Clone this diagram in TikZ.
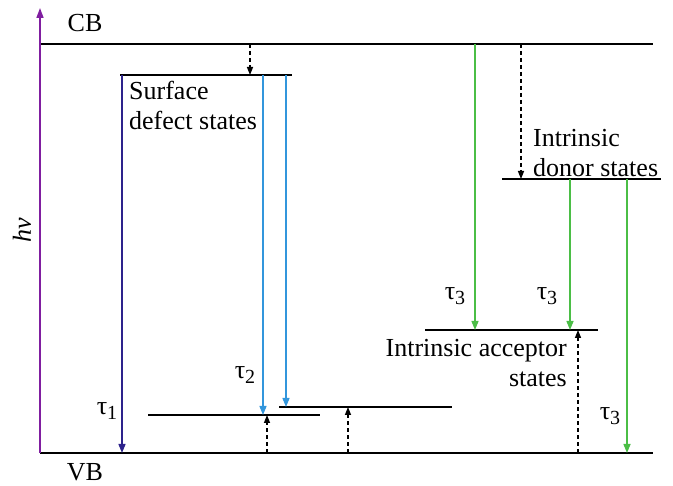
\documentclass[tikz,border=0pt]{standalone}
\usepackage{fontspec}
\setmainfont{Liberation Serif}
\usetikzlibrary{arrows.meta}
\definecolor{hvpurple}{RGB}{128,30,160}
\definecolor{tauone}{RGB}{45,35,140}
\definecolor{tautwo}{RGB}{50,150,220}
\definecolor{tauthree}{RGB}{75,190,70}

% tau with a lowered index
\newcommand{\tauidx}[1]{τ\raisebox{-0.45ex}{\fontsize{20}{20}\selectfont #1}}

\begin{document}
\begin{tikzpicture}[x=1pt,y=-1pt,
  level/.style={line width=1.8pt},
  trans/.style={line width=1.4pt,-{Triangle[width=7pt,length=9pt]}},
  hop/.style={line width=1.4pt,dashed,dash pattern=on 4pt off 3pt,-{Triangle[width=6pt,length=8pt]}},
  lbl/.style={font=\fontsize{26}{30}\selectfont,inner sep=0pt}]
\useasboundingbox (0,0) rectangle (673,486);

% --- bands ---
\draw[level] (40,44) coordinate (cbL) -- (653,44) coordinate (cbR);
\draw[level] (40,453) coordinate (vbL) -- (653,453) coordinate (vbR);
\node[lbl] (cb) at (85,23) {CB};
\node[lbl] (vb) at (85,472) {VB};

% photon energy axis
\draw[line width=1.6pt,hvpurple,-{Triangle[width=7pt,length=10pt]}] (vbL) -- (40,8) coordinate (axT);
\node[lbl,rotate=90] (hv) at (22,230) {\itshape hν};

% --- surface defect states ---
\draw[level] (120,75) coordinate (sdL) -- (292,75) coordinate (sdR);
\node[lbl,align=left,anchor=north west] (sdtxt) at (129,81) {Surface\\defect states};
\draw[level] (148,415) coordinate (lowA) -- (320,415) coordinate (lowAR);
\draw[level] (279,407) coordinate (lowB) -- (452,407) coordinate (lowBR);

\draw[hop] (250,0 |- cbL) -- (250,0 |- sdL);
\draw[trans,tauone] (122,0 |- sdL) -- (122,0 |- vbL);
\draw[trans,tautwo] (263,0 |- sdL) -- (263,0 |- lowA);
\draw[trans,tautwo] (286,0 |- sdL) -- (286,0 |- lowB);
\draw[hop] (267,0 |- vbL) -- (267,0 |- lowA);
\draw[hop] (348,0 |- vbL) -- (348,0 |- lowB);
\node[lbl] (t1) at (107,411) {\tauidx{1}};
\node[lbl] (t2) at (245,375) {\tauidx{2}};

% --- intrinsic donor and acceptor states ---
\draw[level] (502,179) coordinate (dnL) -- (661,179) coordinate (dnR);
\draw[level] (425,330) coordinate (acL) -- (598,330) coordinate (acR);
\node[lbl,align=left,anchor=north west] (dntxt) at (533,129) {Intrinsic\\donor states};
\node[lbl,align=right,anchor=north east] (actxt) at (567,339) {Intrinsic acceptor\\states};

\draw[hop] (521,0 |- cbL) -- (521,0 |- dnL);
\draw[trans,tauthree] (475,0 |- cbL) -- (475,0 |- acL);
\draw[trans,tauthree] (570,0 |- dnL) -- (570,0 |- acL);
\draw[trans,tauthree] (627,0 |- dnL) -- (627,0 |- vbL);
\draw[hop] (578,0 |- vbL) -- (578,0 |- acL);
\node[lbl] (t3a) at (455,296) {\tauidx{3}};
\node[lbl] (t3b) at (547,296) {\tauidx{3}};
\node[lbl] (t3c) at (610,416) {\tauidx{3}};
\end{tikzpicture}
\end{document}
